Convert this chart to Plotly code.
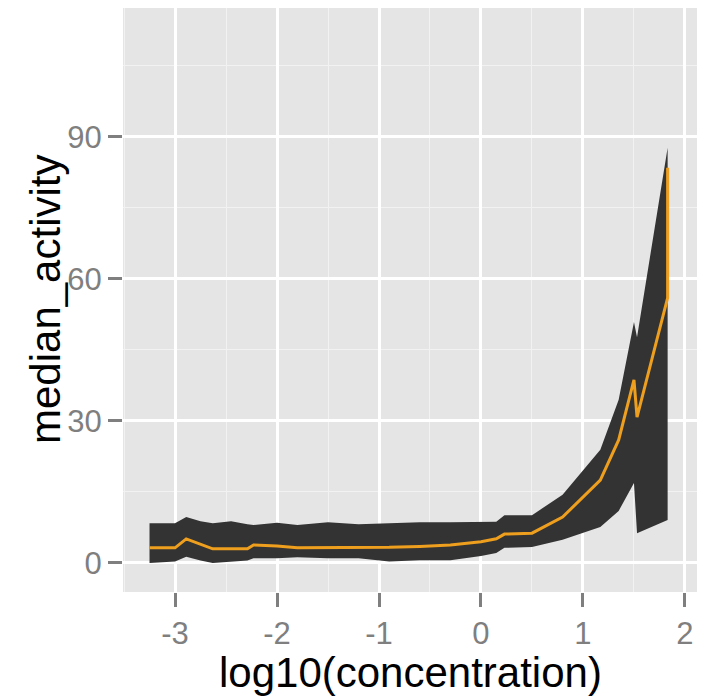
import plotly.graph_objects as go

# log10(concentration) values
log_conc = [-3.25, -3.0, -2.89, -2.75, -2.63, -2.45, -2.29, -2.23, -2.0, -1.8,
            -1.5, -1.2, -0.9, -0.6, -0.3, 0.0, 0.15, 0.23, 0.5, 0.8,
            1.17, 1.35, 1.50, 1.53, 1.83, 1.83]
median_activity = [3.2, 3.2, 5.1, 4.0, 3.0, 3.0, 3.0, 3.8, 3.6, 3.2,
                   3.2, 3.2, 3.3, 3.5, 3.8, 4.5, 5.1, 6.1, 6.3, 9.7,
                   17.5, 26.0, 38.7, 30.8, 56.0, 83.5]
upper = [8.4, 8.4, 9.7, 8.8, 8.4, 8.8, 8.2, 8.0, 8.5, 8.0,
         8.6, 8.2, 8.4, 8.6, 8.6, 8.7, 8.7, 10.1, 10.1, 14.4,
         23.9, 34.5, 50.9, 47.7, 87.7, 87.7]
lower = [0.0, 0.3, 1.3, 0.5, 0.0, 0.3, 0.5, 1.0, 1.0, 1.2,
         1.0, 1.0, 0.3, 0.6, 0.6, 1.5, 2.1, 3.2, 3.4, 4.9,
         7.6, 11.0, 16.9, 6.3, 9.1, 9.1]

x_ticks = [-3, -2, -1, 0, 1, 2]
y_ticks = [0, 30, 60, 90]

fig = go.Figure()
fig.add_trace(go.Scatter(x=log_conc, y=lower, mode="lines",
                         line=dict(width=0, color="#333333"),
                         showlegend=False, hoverinfo="skip"))
fig.add_trace(go.Scatter(x=log_conc, y=upper, mode="lines", fill="tonexty",
                         fillcolor="#333333", line=dict(width=0, color="#333333"),
                         showlegend=False, hoverinfo="skip"))
fig.add_trace(go.Scatter(x=log_conc, y=median_activity, mode="lines",
                         line=dict(width=3, color="#EE9F1E"),
                         showlegend=False))

axis_common = dict(
    showline=False, zeroline=False,
    gridcolor="#FFFFFF", gridwidth=2.6,
    ticks="outside", ticklen=14, tickwidth=2.5, tickcolor="#7F7F7F",
    tickfont=dict(family="Liberation Sans, Arial, sans-serif", size=31, color="#7F7F7F"),
)

fig.update_layout(
    width=699, height=690,
    margin=dict(l=115, r=10, t=0, b=106),
    paper_bgcolor="#FFFFFF", plot_bgcolor="#E5E5E5",
    showlegend=False,
    xaxis=dict(range=[-3.51, 2.118], tickvals=x_ticks, ticktext=[str(v) for v in x_ticks],
               minor=dict(dtick=0.5, tick0=-3.5, showgrid=True, gridcolor="#F2F2F2",
                          gridwidth=1.3, ticks=""),
               **axis_common),
    yaxis=dict(range=[-6.13, 117.25], tickvals=y_ticks, ticktext=[str(v) for v in y_ticks],
               minor=dict(dtick=15, tick0=15, showgrid=True, gridcolor="#F2F2F2",
                          gridwidth=1.3, ticks=""),
               **axis_common),
    annotations=[
        dict(text="log10(concentration)", xref="paper", yref="paper",
             x=0.5, y=0, yshift=-80, xanchor="center", yanchor="middle",
             showarrow=False,
             font=dict(family="Liberation Sans, Arial, sans-serif", size=42, color="#000000")),
        dict(text="median_activity", xref="paper", yref="paper",
             x=0, y=0.5, xshift=-78, xanchor="center", yanchor="middle",
             textangle=-90, showarrow=False,
             font=dict(family="Liberation Sans, Arial, sans-serif", size=42, color="#000000")),
    ],
)

fig.write_html("out.html")
